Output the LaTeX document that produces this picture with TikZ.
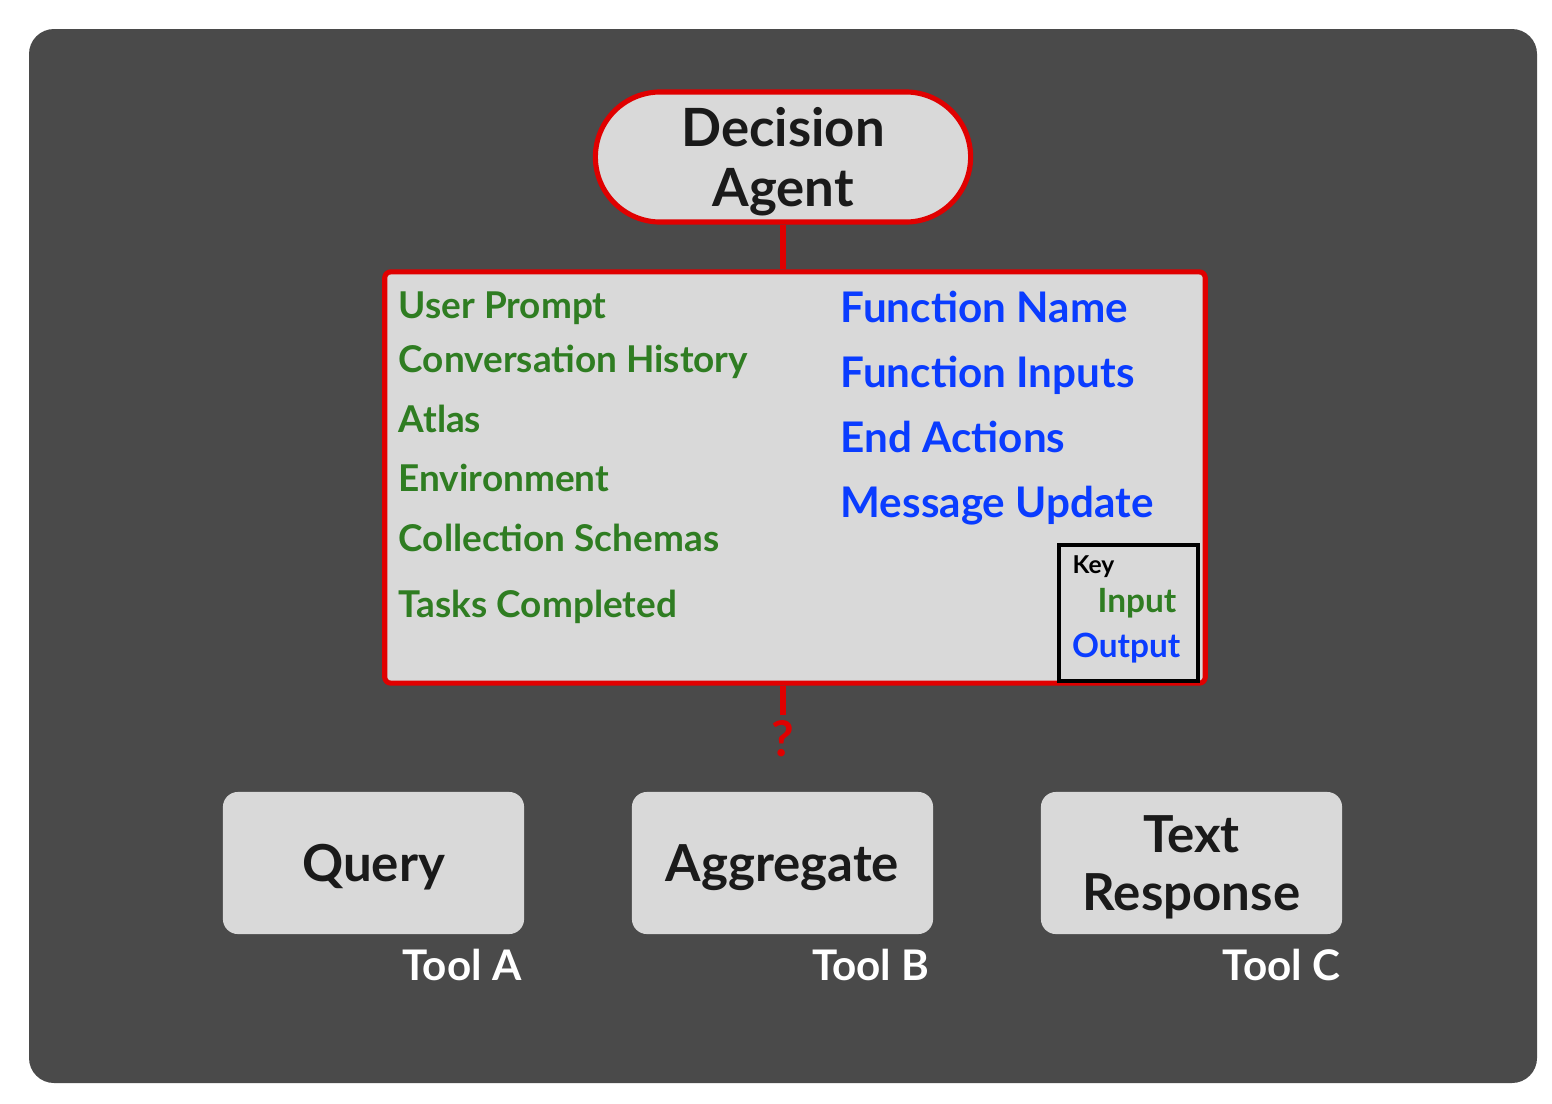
\documentclass[tikz,border=0pt]{standalone}
\usepackage{fontspec}
\setmainfont{Lato}
\definecolor{panelgray}{HTML}{4A4A4A}
\definecolor{boxgray}{HTML}{D9D9D9}
\definecolor{agentred}{HTML}{E00000}
\definecolor{ingreen}{HTML}{2F7D22}
\definecolor{outblue}{HTML}{0A3CFF}
\definecolor{darktext}{HTML}{1A1A1A}
\begin{document}
\begin{tikzpicture}[x=0.01cm, y=-0.01cm,
    agent/.style={draw=agentred, line width=1.45pt, fill=boxgray, rounded corners=0.65cm,
        minimum width=3.75cm, minimum height=1.3cm, inner sep=0pt, align=center, text=darktext,
        font=\fontsize{15}{17}\selectfont\bfseries},
    toolbox/.style={fill=boxgray, rounded corners=0.15cm, minimum width=3.01cm,
        minimum height=1.42cm, inner sep=0pt, align=center, text=darktext,
        font=\fontsize{14.5}{16.5}\selectfont\bfseries},
    inlabel/.style={anchor=base west, inner sep=0pt, text=ingreen,
        font=\fontsize{10.5}{12}\selectfont\bfseries},
    outlabel/.style={anchor=base west, inner sep=0pt, text=outblue,
        font=\fontsize{12}{14}\selectfont\bfseries},
    toollabel/.style={anchor=base east, inner sep=0pt, text=white,
        font=\fontsize{12}{14}\selectfont\bfseries},
    redlink/.style={agentred, line width=1.45pt}]
    \useasboundingbox (0,0) rectangle (1552,1103);

    % Background panel
    \fill[panelgray, rounded corners=0.25cm] (29,29) rectangle (1537,1083);

    % Decision agent
    \node[agent] (agent) at (783,157) {\rule{0pt}{14pt}Decision\\Agent};

    % Inputs and outputs of the agent
    \node[draw=agentred, line width=1.45pt, fill=boxgray, rounded corners=0.06cm,
        minimum width=8.2cm, minimum height=4.11cm] (io) at (795,477.5) {};
    \node[inlabel] (in1) at (398,318) {User Prompt};
    \node[inlabel] (in2) at (398,372) {Conversation History};
    \node[inlabel] (in3) at (398,432) {Atlas};
    \node[inlabel] (in4) at (398,491) {Environment};
    \node[inlabel] (in5) at (398,551) {Collection Schemas};
    \node[inlabel] (in6) at (398,617) {Tasks Completed};
    \node[outlabel] (out1) at (840,322) {Function Name};
    \node[outlabel] (out2) at (840,387) {Function Inputs};
    \node[outlabel] (out3) at (840,452) {End Actions};
    \node[outlabel] (out4) at (840,517) {Message Update};

    % Key
    \node[draw=black, line width=1.1pt, minimum width=1.39cm, minimum height=1.36cm] (key) at (1128.5,613) {};
    \node[anchor=base west, inner sep=0pt, font=\fontsize{7}{8}\selectfont\bfseries] (keytitle) at (1072,573) {Key};
    \node[anchor=base east, inner sep=0pt, text=ingreen, font=\fontsize{9.5}{11}\selectfont\bfseries] (keyin) at (1177,612) {Input};
    \node[anchor=base east, inner sep=0pt, text=outblue, font=\fontsize{9.5}{11}\selectfont\bfseries] (keyout) at (1181,657) {Output};

    \draw[redlink] (agent.south) -- (agent.south |- io.north);
    \coordinate (q) at (783,715);
    \draw[redlink] (io.south -| agent.south) -- (q);
    \node[text=agentred, font=\fontsize{14}{16}\selectfont\bfseries] (qmark) at (783,739) {?};

    % Tools
    \node[toolbox] (query) at (373.5,863) {\rule{0pt}{13pt}Query};
    \node[toolbox] (aggregate) at (782.5,863) {\rule{0pt}{13pt}Aggregate};
    \node[toolbox] (response) at (1191.5,863) {\rule{0pt}{13pt}Text\\Response};
    \node[toollabel] (toolA) at (522,980) {Tool A};
    \node[toollabel] (toolB) at (930,980) {Tool B};
    \node[toollabel] (toolC) at (1341,980) {Tool C};
\end{tikzpicture}
\end{document}
